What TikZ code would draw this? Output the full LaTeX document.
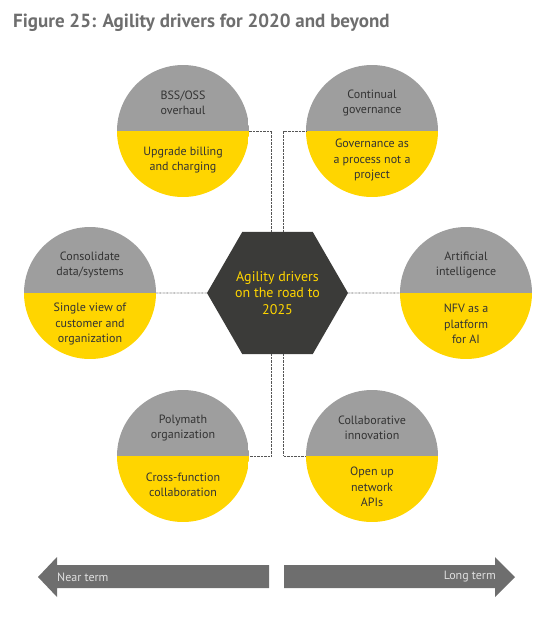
\documentclass[tikz,border=0pt]{standalone}
\usepackage{fontspec}
\setmainfont{PT Sans}
\usetikzlibrary{shapes.geometric}
\definecolor{cgray}{HTML}{9E9E9E}
\definecolor{cyellow}{HTML}{FFD500}
\definecolor{hexdark}{HTML}{3B3B39}
\definecolor{txtdark}{HTML}{333333}
\definecolor{titlegray}{HTML}{6E6E6E}
\definecolor{arrowgray}{HTML}{6E6E6E}
\definecolor{linegray}{HTML}{555555}
\tikzset{
  disc/.style={circle, minimum size=132pt, inner sep=0pt, outer sep=0pt,
    path picture={
      \fill[cgray] (path picture bounding box.north west) rectangle (path picture bounding box.east);
      \fill[cyellow] (path picture bounding box.west) rectangle (path picture bounding box.south east);
    }},
  ctext/.style={align=center, text=txtdark, inner sep=0pt, font=\fontsize{12}{15.5}\selectfont},
  conn/.style={draw=linegray, line width=0.6pt, dash pattern=on 0.7pt off 0.7pt},
  hexa/.style={regular polygon, regular polygon sides=6,
    minimum size=141pt, inner sep=0pt, outer sep=0pt, fill=hexdark,
    text=cyellow, align=center, font=\fontsize{14}{16.5}\selectfont},
  arrowlabel/.style={text=white!88!black, inner sep=0pt, font=\fontsize{12}{14}\selectfont},
}
\begin{document}
\begin{tikzpicture}[x=1pt,y=-1pt]
\useasboundingbox (0,0) rectangle (556,622);
% title
\node[anchor=base west, inner sep=0pt, text=titlegray, font=\fontsize{19}{22}\selectfont\bfseries] (title) at (13,27) {Figure 25: Agility drivers for 2020 and beyond};
% hexagon
\node[hexa] (hex) at (277.5,293) {Agility drivers\\on the road to\\2025};
% circles
\node[disc] (tl) at (183,131) {};
\node[disc] (tr) at (372,131) {};
\node[disc] (ml) at (90,293) {};
\node[disc] (mr) at (466,293) {};
\node[disc] (bl) at (183,456) {};
\node[disc] (br) at (372,456) {};
% circle texts
\node[ctext] (tlg) at ([yshift=28pt]tl.center) {BSS/OSS\\overhaul};
\node[ctext] (tly) at ([yshift=-29pt]tl.center) {Upgrade billing\\and charging};
\node[ctext] (trg) at ([yshift=28pt]tr.center) {Continual\\governance};
\node[ctext] (try) at ([yshift=-29pt]tr.center) {Governance as\\a process not a\\project};
\node[ctext] (mlg) at ([yshift=28pt]ml.center) {Consolidate\\data/systems};
\node[ctext] (mly) at ([yshift=-31pt]ml.center) {Single view of\\customer and\\organization};
\node[ctext] (mrg) at ([yshift=28pt]mr.center) {Artificial\\intelligence};
\node[ctext] (mry) at ([yshift=-31pt]mr.center) {NFV as a\\platform\\for AI};
\node[ctext] (blg) at ([yshift=28pt]bl.center) {Polymath\\organization};
\node[ctext] (bly) at ([yshift=-29pt]bl.center) {Cross-function\\collaboration};
\node[ctext] (brg) at ([yshift=28pt]br.center) {Collaborative\\innovation};
\node[ctext] (bry) at ([yshift=-31pt]br.center) {Open up\\network\\APIs};
% connectors
\draw[conn] ([xshift=-6pt]hex.90) |- (tl.east);
\draw[conn] ([xshift=6pt]hex.90) |- (tr.west);
\draw[conn] ([xshift=-6pt]hex.270) |- (bl.east);
\draw[conn] ([xshift=6pt]hex.270) |- (br.west);
\draw[conn] (ml.east) -- (hex.180);
\draw[conn] (hex.0) -- (mr.west);
% bottom arrows
\fill[arrowgray] (269,565) -- (57,565) -- (57,557) -- (38,577) -- (57,597) -- (57,588) -- (269,588) -- cycle;
\fill[arrowgray] (284,565) -- (495,565) -- (495,557) -- (515,577) -- (495,597) -- (495,588) -- (284,588) -- cycle;
\node[arrowlabel, anchor=west] (near) at (57,577) {Near term};
\node[arrowlabel, anchor=east] (long) at (496,577) {Long term};
\end{tikzpicture}
\end{document}
